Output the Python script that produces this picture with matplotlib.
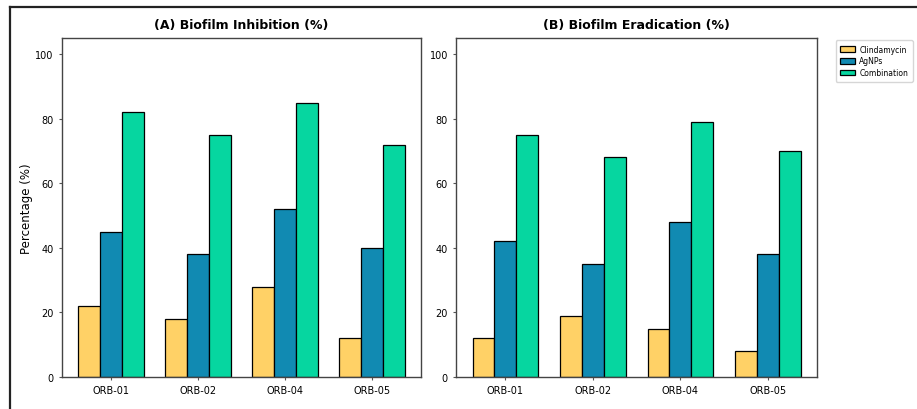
import matplotlib
matplotlib.use("Agg")
import matplotlib.pyplot as plt
import numpy as np
from matplotlib.lines import Line2D

strains = ["ORB-01", "ORB-02", "ORB-04", "ORB-05"]
series_names = ["Clindamycin", "AgNPs", "Combination"]
inhib_clinda = [22, 18, 28, 12]
inhib_agnps = [45, 38, 52, 40]
inhib_combo = [82, 75, 85, 72]
erad_clinda = [12, 19, 15, 8]
erad_agnps = [42, 35, 48, 38]
erad_combo = [75, 68, 79, 70]
colors = ["#FFD166", "#118AB2", "#06D6A0"]

fig = plt.figure(figsize=(9.17, 4.10), dpi=100)
axA = fig.add_axes([0.0676, 0.078, 0.3915, 0.827])
axB = fig.add_axes([0.4975, 0.078, 0.3935, 0.827])

x = np.arange(len(strains))
w = 0.25
for ax, data, title in [(axA, [inhib_clinda, inhib_agnps, inhib_combo], "(A) Biofilm Inhibition (%)"),
                        (axB, [erad_clinda, erad_agnps, erad_combo], "(B) Biofilm Eradication (%)")]:
    for i, (vals, c, name) in enumerate(zip(data, colors, series_names)):
        ax.bar(x + (i - 1) * w, vals, w, color=c, edgecolor="black", linewidth=0.9, label=name)
    ax.set_xticks(x)
    ax.set_xticklabels(strains, fontsize=7)
    ax.set_ylim(0, 105)
    ax.set_yticks([0, 20, 40, 60, 80, 100])
    ax.tick_params(axis="y", labelsize=7, length=2.5, color="#555555")
    ax.tick_params(axis="x", length=2.5, color="#555555")
    ax.set_title(title, fontsize=9, fontweight="bold", pad=7)
    for s in ax.spines.values():
        s.set_color("#444444")
        s.set_linewidth(1.0)

axA.set_ylabel("Percentage (%)", fontsize=8.5, labelpad=2)
axB.legend(loc="upper left", bbox_to_anchor=(1.045, 1.0), fontsize=5.5, frameon=True,
           handlelength=2.0, handleheight=0.8, handletextpad=0.5, borderpad=0.6,
           labelspacing=0.35, borderaxespad=0.3)

fig.add_artist(Line2D([0.011, 1.0], [0.981, 0.981], transform=fig.transFigure, color="#222222", lw=1.6))
fig.add_artist(Line2D([0.011, 0.011], [0.0, 0.981], transform=fig.transFigure, color="#222222", lw=1.6))

fig.savefig("out.png", dpi=100)
